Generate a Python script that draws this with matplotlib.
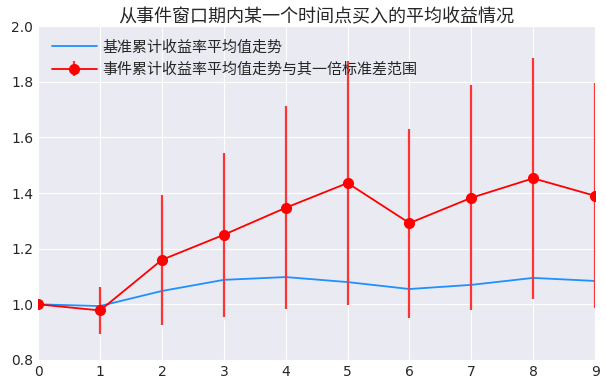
import matplotlib
matplotlib.use("Agg")
import matplotlib.pyplot as plt

plt.style.use("seaborn-v0_8-darkgrid")
plt.rcParams["font.family"] = ["DejaVu Sans", "Noto Sans CJK SC"]
plt.rcParams["axes.unicode_minus"] = False

# days after buying point
days = [0, 1, 2, 3, 4, 5, 6, 7, 8, 9]
benchmark_mean = [1.0, 0.994, 1.048, 1.088, 1.098, 1.080, 1.055, 1.070, 1.095, 1.084]
event_mean = [1.0, 0.978, 1.160, 1.250, 1.347, 1.436, 1.292, 1.383, 1.453, 1.390]
event_std = [0.0, 0.085, 0.233, 0.295, 0.365, 0.438, 0.340, 0.404, 0.433, 0.404]

fig, ax = plt.subplots(figsize=(6.06, 3.9), dpi=100)

ax.plot(days, benchmark_mean, color="#1E90FF", lw=1.3, label="基准累计收益率平均值走势")
ax.errorbar(days, event_mean, yerr=event_std, fmt="-o", color="red", ms=7,
            lw=1.3, ecolor="#FF3333", elinewidth=1.6,
            label="事件累计收益率平均值走势与其一倍标准差范围")

ax.set_xlim(0, 9)
ax.set_ylim(0.8, 2.0)
ax.tick_params(labelsize=10)
ax.legend(loc="upper left", fontsize=10.8, frameon=False,
          handlelength=3.0, handletextpad=0.35)
ax.set_title("从事件窗口期内某一个时间点买入的平均收益情况", fontsize=13, pad=3)

fig.subplots_adjust(left=0.063, right=0.982, top=0.933, bottom=0.077)
fig.savefig("out.png", dpi=100)
